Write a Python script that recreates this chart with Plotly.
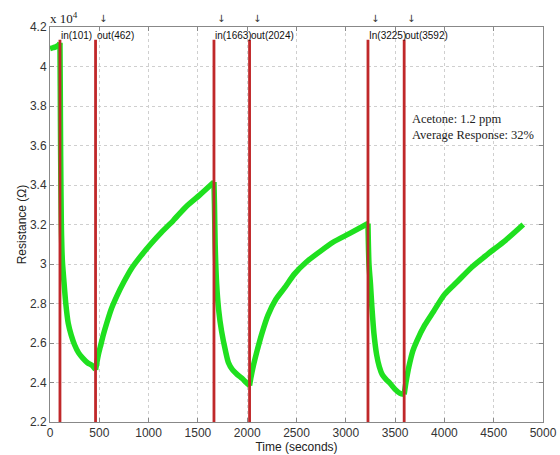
import plotly.graph_objects as go

# Resistance curve (x 10^4 ohm) vs time (s)
time_s = [0, 30, 60, 90, 101, 104, 108, 115, 125, 140, 160, 185, 215, 250, 290, 330, 380, 430, 462,
          475, 490, 510, 540, 575, 620, 680, 750, 830, 920, 1020, 1130, 1250, 1380, 1520, 1663,
          1668, 1675, 1690, 1710, 1740, 1780, 1810, 1850, 1900, 1950, 1990, 2024,
          2040, 2065, 2100, 2150, 2210, 2290, 2380, 2480, 2600, 2730, 2870, 3040, 3225,
          3235, 3250, 3265, 3285, 3313, 3340, 3370, 3410, 3450, 3500, 3550, 3592,
          3610, 3640, 3680, 3720, 3800, 3890, 4000, 4130, 4280, 4440, 4620, 4800]
resistance = [4.09, 4.095, 4.10, 4.11, 4.12, 3.9, 3.55, 3.2, 3.02, 2.92, 2.80, 2.70, 2.64, 2.59, 2.55, 2.525, 2.50, 2.485, 2.465,
              2.50, 2.54, 2.58, 2.64, 2.70, 2.77, 2.84, 2.91, 2.98, 3.04, 3.10, 3.16, 3.22, 3.29, 3.35, 3.415,
              3.3, 3.1, 2.9, 2.77, 2.66, 2.56, 2.50, 2.465, 2.44, 2.42, 2.40, 2.385,
              2.43, 2.49, 2.56, 2.65, 2.74, 2.82, 2.88, 2.95, 3.01, 3.06, 3.11, 3.155, 3.205,
              3.0, 2.9, 2.78, 2.65, 2.54, 2.48, 2.44, 2.415, 2.395, 2.365, 2.345, 2.34,
              2.40, 2.48, 2.56, 2.61, 2.69, 2.76, 2.845, 2.91, 2.985, 3.05, 3.12, 3.20]

event_times = [101, 462, 1663, 2024, 3225, 3592]
event_labels = ["in(101)", "out(462)", "in(1663)", "out(2024)", "In(3225)", "out(3592)"]
event_line_top = 4.135

x_ticks = [0, 500, 1000, 1500, 2000, 2500, 3000, 3500, 4000, 4500, 5000]
y_ticks = [2.2, 2.4, 2.6, 2.8, 3.0, 3.2, 3.4, 3.6, 3.8, 4.0, 4.2]

fig = go.Figure()
# split the curve at the events so each piece is smoothed but corners stay sharp
bounds = [time_s[0]] + event_times + [time_s[-1]]
for a, b in zip(bounds[:-1], bounds[1:]):
    xs = [t for t in time_s if a <= t <= b]
    ys = [r for t, r in zip(time_s, resistance) if a <= t <= b]
    fig.add_trace(go.Scatter(x=xs, y=ys, mode="lines",
                             line=dict(color="#1fe01f", width=5.5, shape="spline", smoothing=0.7),
                             showlegend=False, hoverinfo="skip"))
for t in event_times:
    fig.add_trace(go.Scatter(x=[t, t], y=[2.2, event_line_top], mode="lines",
                             line=dict(color="#c0282a", width=2.8), showlegend=False, hoverinfo="skip"))

annotations = []
for t, lab in zip(event_times, event_labels):
    annotations.append(dict(x=t, y=1, xref="x", yref="paper", text=lab, showarrow=False,
                            xanchor="left", yanchor="top", xshift=-1, yshift=-1,
                            font=dict(family="Arial, Liberation Sans", size=10, color="#111")))
for t in event_times[1:]:
    annotations.append(dict(x=t, y=1, xref="x", yref="paper", text="↓", showarrow=False,
                            xanchor="center", yanchor="bottom", xshift=7, yshift=1,
                            font=dict(family="DejaVu Sans", size=10, color="#333")))
annotations.append(dict(x=0, y=1, xref="paper", yref="paper", text="x 10<sup>4</sup>", showarrow=False,
                        xanchor="left", yanchor="bottom", xshift=-2, yshift=-1,
                        font=dict(family="Liberation Serif, Times New Roman", size=13, color="#222")))
annotations.append(dict(x=3650, y=3.78, xref="x", yref="y",
                        text="Acetone: 1.2 ppm<br>Average Response: 32%", showarrow=False,
                        xanchor="left", yanchor="top", align="left",
                        font=dict(family="Liberation Serif, Times New Roman", size=12.5, color="#222")))

axis_common = dict(showline=True, linecolor="#888", mirror="ticks", ticks="inside", ticklen=4,
                   tickcolor="#888", showgrid=True, gridcolor="#cfcfcf", griddash="dot", gridwidth=1,
                   zeroline=False, automargin=False,
                   tickfont=dict(family="Arial, Liberation Sans", size=12, color="#333"))

fig.update_layout(
    width=560, height=455,
    margin=dict(l=50, r=17, t=27, b=33),
    paper_bgcolor="white", plot_bgcolor="white",
    xaxis=dict(range=[0, 5000], tickvals=x_ticks, title=dict(text="Time (seconds)", standoff=0,
               font=dict(family="Arial, Liberation Sans", size=12, color="#222")), **axis_common),
    yaxis=dict(range=[2.2, 4.2], tickvals=y_ticks, title=dict(text="Resistance (Ω)", standoff=0,
               font=dict(family="Arial, Liberation Sans", size=12, color="#222")), **axis_common),
    annotations=annotations,
)
fig.write_html("out.html", config={"displayModeBar": False},
               post_script="document.body.style.margin='0';document.body.style.overflow='hidden';")
